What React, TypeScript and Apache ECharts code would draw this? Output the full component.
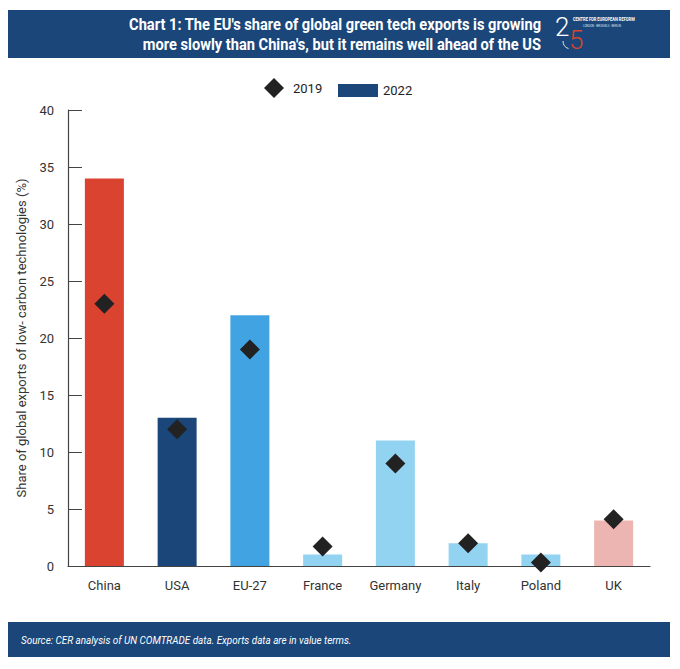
import React, { useEffect, useRef } from "react";
import * as echarts from "echarts";

const categories = ["China", "USA", "EU-27", "France", "Germany", "Italy", "Poland", "UK"];
const values2022 = [34, 13, 22, 1, 11, 2, 1, 4];
const values2019 = [23, 12, 19, 1.7, 9, 2, 0.3, 4.1];
const barColors = ["#d9432f", "#1b4679", "#42a3e3", "#93d3f2", "#93d3f2", "#93d3f2", "#93d3f2", "#ecb5b2"];
const yTicks = [0, 5, 10, 15, 20, 25, 30, 35, 40];

const titleLines = [
  "Chart 1: The EU's share of global green tech exports is growing",
  "more slowly than China's, but it remains well ahead of the US",
];
const sourceText = "Source: CER analysis of UN COMTRADE data. Exports data are in value terms.";
const yAxisName = "Share of global exports of low- carbon technologies (%)";

const FONT = "Roboto, 'Open Sans', 'Noto Sans', sans-serif";
const NAVY = "#1b4679";

export default function App() {
  const ref = useRef<HTMLDivElement>(null);
  useEffect(() => {
    if (!ref.current) return;
    const chart = echarts.init(ref.current, undefined, { renderer: "svg" });
    chart.setOption({
      animation: false,
      backgroundColor: "#ffffff",
      textStyle: { fontFamily: FONT },
      grid: { left: 68, right: 30, top: 110, bottom: 103, containLabel: false },
      legend: [
        {
          data: [{ name: "2019", icon: "diamond" }],
          left: 264,
          top: 78,
          padding: 0,
          itemWidth: 20,
          itemHeight: 20,
          textStyle: { fontSize: 13, color: "#222", fontFamily: FONT, padding: [0, 0, 0, 4] },
          itemStyle: { color: "#222", opacity: 1 },
          selectedMode: false,
        },
        {
          data: [{ name: "2022", icon: "rect" }],
          left: 338,
          top: 84,
          padding: 0,
          itemWidth: 40,
          itemHeight: 13,
          textStyle: { fontSize: 13, color: "#222", fontFamily: FONT },
          itemStyle: { color: NAVY },
          selectedMode: false,
        },
      ],
      xAxis: {
        type: "category",
        data: categories,
        axisLine: { lineStyle: { color: "#444", width: 1.2 } },
        axisTick: { inside: true, length: 10, lineStyle: { color: "#444" } },
        axisLabel: { interval: 0, fontSize: 13, color: "#333", margin: 13, fontFamily: FONT },
      },
      yAxis: {
        type: "value",
        min: 0,
        max: 40,
        interval: 5,
        name: yAxisName,
        nameLocation: "middle",
        nameGap: 38,
        nameTextStyle: { fontSize: 13, color: "#333", fontFamily: FONT },
        axisLine: { show: true, lineStyle: { color: "#444", width: 1.2 } },
        axisTick: { show: true, inside: true, length: 14, lineStyle: { color: "#444" } },
        axisLabel: {
          fontSize: 13,
          color: "#333",
          margin: 14,
          fontFamily: FONT,
          formatter: (v: number) => (yTicks.includes(v) ? String(v) : ""),
        },
        splitLine: { show: false },
      },
      series: [
        {
          name: "2022",
          type: "bar",
          barWidth: 39,
          data: values2022.map((v, i) => ({ value: v, itemStyle: { color: barColors[i] } })),
          itemStyle: { color: NAVY },
          z: 2,
        },
        {
          name: "2019",
          type: "scatter",
          symbol: "diamond",
          symbolSize: 20,
          data: values2019,
          itemStyle: { color: "#222222", opacity: 1 },
          z: 3,
        },
      ],
      graphic: [
        {
          type: "rect",
          shape: { x: 8, y: 10, width: 662, height: 48 },
          style: { fill: NAVY },
          silent: true,
        },
        {
          type: "text",
          x: 541,
          y: 17,
          scaleX: 0.915,
          style: {
            text: titleLines[0],
            fill: "#fff",
            font: `bold 16px ${FONT}`,
            textAlign: "right",
            textVerticalAlign: "top",
          },
        },
        {
          type: "text",
          x: 541,
          y: 37,
          scaleX: 0.915,
          style: {
            text: titleLines[1],
            fill: "#fff",
            font: `bold 16px ${FONT}`,
            textAlign: "right",
            textVerticalAlign: "top",
          },
        },
        {
          type: "text",
          x: 555,
          y: 14,
          style: { text: "2", fill: "#fff", font: `300 26px ${FONT}` },
        },
        {
          type: "text",
          x: 569,
          y: 27,
          style: { text: "5", fill: "#d9432f", font: `300 26px ${FONT}` },
        },
        {
          type: "arc",
          shape: { cx: 571, cy: 41, r: 8, startAngle: Math.PI * 0.6, endAngle: Math.PI * 1.0 },
          style: { stroke: "#dfe6ef", lineWidth: 1, fill: "none" },
          silent: true,
        },
        {
          type: "text",
          x: 573,
          y: 17,
          scaleX: 0.8,
          style: { text: "CENTRE FOR EUROPEAN REFORM", fill: "#fff", font: `bold 5px ${FONT}` },
        },
        {
          type: "text",
          x: 583,
          y: 23.5,
          scaleX: 0.8,
          style: { text: "LONDON · BRUSSELS · BERLIN", fill: "#dfe6ef", font: `3.5px ${FONT}` },
        },
        {
          type: "rect",
          shape: { x: 8, y: 622, width: 662, height: 35 },
          style: { fill: NAVY },
          silent: true,
        },
        {
          type: "text",
          x: 21,
          y: 640,
          scaleX: 0.9,
          style: {
            text: sourceText,
            fill: "#fff",
            font: `italic 11px ${FONT}`,
            textVerticalAlign: "middle",
          },
        },
      ],
    });
    return () => chart.dispose();
  }, []);
  return (
    <div
      ref={ref}
      style={{ position: "fixed", left: 0, top: 0, width: 680, height: 669 }}
    />
  );
}
